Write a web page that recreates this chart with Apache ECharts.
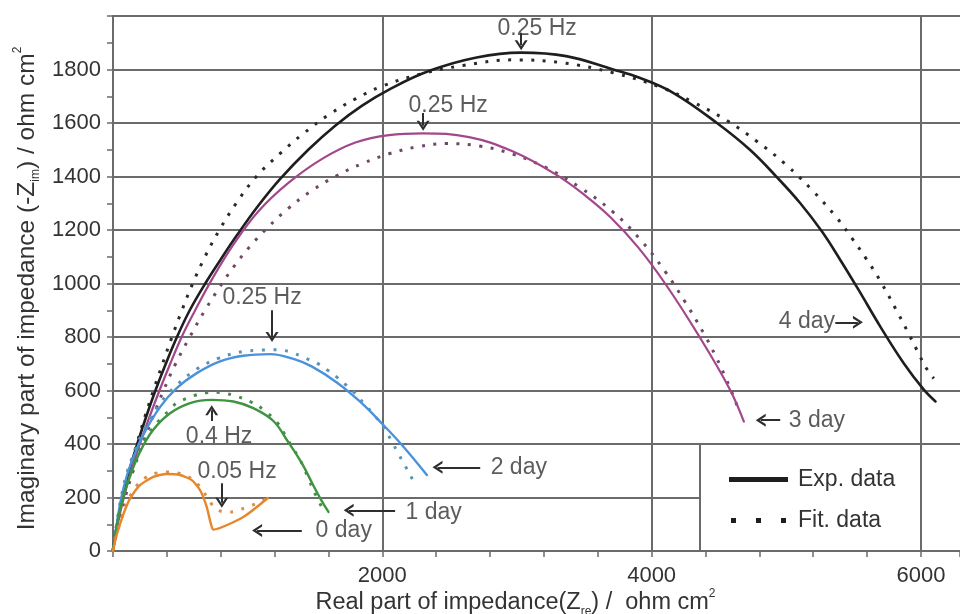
<!DOCTYPE html>
<html>
<head>
<meta charset="utf-8">
<script src="https://cdn.jsdelivr.net/npm/echarts@6/dist/echarts.min.js"></script>
<style>
  html, body { margin: 0; padding: 0; background: #ffffff; }
  #chart { width: 960px; height: 614px; }
</style>
</head>
<body>
<div id="chart"></div>
<script>
// Nyquist plots: [Z_re, -Z_im] in ohm cm^2, measured (Exp.) and fitted (Fit.) per immersion day
const day4Exp = [[0,0],[30,100],[70,200],[120,300],[180,400],[245,500],[315,600],[392,700],[475,800],[570,900],[685,1000],[800,1090],[920,1180],[1070,1285],[1240,1390],[1450,1500],[1650,1590],[1850,1665],[2050,1725],[2350,1795],[2700,1845],[3029,1863],[3365,1850],[3715,1800],[3915,1768],[4163,1712],[4485,1600],[4732,1499],[4931,1397],[5104,1300],[5265,1194],[5401,1088],[5537,976],[5698,839],[5872,702],[6021,603],[6108,559]];
const day4Fit = [[0,0],[28,100],[68,200],[118,300],[176,400],[236,500],[300,600],[368,700],[438,800],[512,900],[592,1000],[683,1100],[790,1200],[915,1300],[1065,1400],[1250,1490],[1400,1555],[1600,1630],[1800,1690],[2000,1738],[2300,1785],[2600,1815],[2967,1836],[3339,1825],[3712,1788],[4060,1735],[4308,1678],[4556,1610],[4780,1532],[4996,1445],[5194,1348],[5376,1245],[5487,1170],[5594,1092],[5693,1014],[5822,896],[5909,812],[5991,730],[6034,688],[6095,645]];

const day3Exp = [[0,0],[35,100],[80,200],[135,300],[200,400],[270,500],[345,600],[425,700],[510,800],[600,890],[740,1020],[900,1150],[1080,1270],[1300,1375],[1550,1465],[1800,1527],[2050,1555],[2300,1561],[2644,1547],[2967,1494],[3290,1407],[3514,1326],[3700,1245],[3900,1135],[4100,1000],[4350,805],[4580,605],[4685,484]];
const day3Fit = [[0,0],[40,100],[90,200],[150,300],[220,400],[295,500],[375,600],[465,700],[570,800],[683,900],[790,985],[900,1065],[1020,1140],[1150,1210],[1300,1280],[1470,1345],[1650,1400],[1850,1448],[2050,1485],[2250,1510],[2470,1523],[2719,1514],[2967,1484],[3216,1433],[3464,1360],[3712,1268],[3923,1160],[4100,1045],[4250,930],[4390,811],[4477,727],[4551,646],[4618,565],[4655,515]];

const day2Exp = [[0,0],[28,100],[62,200],[105,285],[151,350],[225,435],[349,538],[473,609],[622,665],[795,709],[968,730],[1167,736],[1340,718],[1475,690],[1662,630],[1835,558],[2008,471],[2157,390],[2331,284]];
const day2Fit = [[0,0],[28,100],[62,205],[105,295],[151,360],[225,448],[349,552],[473,620],[622,680],[780,720],[894,738],[968,746],[1067,750],[1180,752],[1265,750],[1340,740],[1427,721],[1513,703],[1588,678],[1662,650],[1736,618],[1798,590],[1860,553],[1940,508],[2010,462],[2070,410],[2120,363],[2165,322],[2207,284],[2249,243]];

const day1Exp = [[0,0],[30,100],[70,190],[120,270],[200,370],[299,453],[424,515],[572,553],[733,565],[894,559],[1042,534],[1191,486],[1295,412],[1400,330],[1488,245],[1540,196],[1600,146]];
const day1Fit = [[0,0],[30,100],[70,195],[120,278],[200,380],[299,462],[424,530],[473,553],[548,571],[622,584],[696,592],[770,593],[845,588],[919,578],[1018,559],[1117,528],[1216,482],[1278,434],[1328,390],[1377,352],[1414,315],[1451,271],[1500,215],[1575,140]];

const day0Exp = [[0,0],[22,50],[52,100],[90,155],[126,195],[200,246],[299,277],[399,288],[498,284],[585,265],[646,228],[696,165],[725,105],[745,80],[968,127],[1150,198]];
const day0Fit = [[0,0],[22,55],[52,105],[90,162],[126,205],[200,258],[287,286],[386,295],[450,294],[520,286],[590,268],[650,238],[700,200],[750,165],[807,148],[882,146],[968,159],[1067,178],[1142,195]];

// frequency and day annotations: [x, y, text]
const freqNotes = [[3150,1952,'0.25 Hz'],[2489,1664,'0.25 Hz'],[1107,946,'0.25 Hz'],[788,429,'0.4 Hz'],[921,298,'0.05 Hz']];
const dayNotes = [[1501,77,'0 day'],[2169,145,'1 day'],[2801,313,'2 day'],[5015,489,'3 day'],[4941,856,'4 day']];
// pointer arrows: [tail, head]
const pointers = [
  [[3031,1937],[3031,1891]],
  [[2303,1637],[2303,1590]],
  [[1181,900],[1181,800]],
  [[733,486],[733,526]],
  [[808,253],[808,180]],
  [[1402,77],[1070,77]],
  [[2095,152],[1750,152]],
  [[2727,313],[2410,313]],
  [[4955,489],[4810,489]],
  [[5364,855],[5532,855]]
];

const xLabelValues = [2000, 4000, 6000];
const legendNames = ['Exp. data', 'Fit. data'];
// legend panel: left edge on Z_re, top on -Z_im
const legendPanel = [4360, 400];

const FONT = '"Liberation Sans", Arial, Helvetica, sans-serif';
const INK = '#333333';
const RULE = '#6b6b6b';
const CLEAR = 'rgba(0,0,0,0)';
const X_MAX = 6290;
const X_STEP = 400;
const Y_MAX = 2000;
const Y_STEP = 200;

// gridline colours per tick: vertical rules only at the labelled values,
// and the 200 rule is drawn separately so it stops at the legend panel
const xRuleColors = [];
for (let v = 0; v <= X_MAX + X_STEP; v += X_STEP) xRuleColors.push(xLabelValues.indexOf(v) >= 0 ? RULE : CLEAR);
const yRuleColors = [];
for (let v = 0; v <= Y_MAX; v += Y_STEP) yRuleColors.push(v === Y_STEP ? CLEAR : RULE);

const chart = echarts.init(document.getElementById('chart'), null, { renderer: 'canvas' });

function expSeries(name, pts, color, width, smooth) {
  return {
    type: 'line', name: name, data: pts, symbol: 'none', showSymbol: false,
    smooth: smooth, z: 3, silent: true,
    lineStyle: { color: color, width: width, cap: 'round', join: 'round' },
    itemStyle: { color: color }
  };
}
function fitSeries(name, pts, color, smooth) {
  return {
    type: 'line', name: name, data: pts, symbol: 'none', showSymbol: false,
    smooth: smooth, z: 3, silent: true,
    lineStyle: { color: color, width: 3, type: [3, 8.5], cap: 'butt' },
    itemStyle: { color: color }
  };
}

const chevron = 'path://M0,9 L5,0 L10,9 L8,9 L5,3.6 L2,9 Z';
function richFor(size) {
  return {
    s: { fontSize: size, fontFamily: FONT, color: INK, verticalAlign: 'bottom', lineHeight: 30 },
    p: { fontSize: size, fontFamily: FONT, color: INK, verticalAlign: 'top', lineHeight: 30 }
  };
}

const option = {
  animation: false,
  backgroundColor: '#ffffff',
  textStyle: { fontFamily: FONT },
  grid: { left: 113, top: 16, width: 847, height: 535, containLabel: false, outerBoundsMode: 'none' },
  legend: {
    orient: 'vertical', left: 724, top: 463, itemWidth: 59, itemHeight: 5, itemGap: 18,
    selectedMode: false,
    textStyle: { fontSize: 23, color: INK, fontFamily: FONT, padding: [0, 0, 0, 5] },
    data: [
      { name: legendNames[0], icon: 'rect' },
      { name: legendNames[1], icon: 'path://M0,0h5v5h-5z M25,0h5v5h-5z M50,0h5v5h-5z' }
    ]
  },
  xAxis: {
    type: 'value', min: 0, max: X_MAX, interval: X_STEP,
    name: 'Real part of impedance(Z{s|re}) /  ohm cm{p|2}',
    nameLocation: 'middle', nameGap: 37, nameMoveOverlap: false,
    nameTextStyle: { fontSize: 23.5, color: INK, fontFamily: FONT, padding: [0, 42, 0, 0], rich: richFor(12) },
    axisLine: { show: true, lineStyle: { color: RULE, width: 2 } },
    axisTick: { show: true, inside: false, length: 6, lineStyle: { color: RULE, width: 1.5 } },
    axisLabel: {
      fontSize: 22, color: INK, fontFamily: FONT, margin: 14,
      formatter: function (v) { return xLabelValues.indexOf(v) >= 0 ? String(v) : ''; }
    },
    splitLine: { show: true, lineStyle: { color: xRuleColors, width: 2 } }
  },
  yAxis: {
    type: 'value', min: 0, max: Y_MAX, interval: Y_STEP,
    name: 'Imaginary part of impedance (-Z{s|im}) / ohm cm{p|2}',
    nameLocation: 'middle', nameRotate: 90, nameGap: 71, nameMoveOverlap: false,
    nameTextStyle: { fontSize: 24.5, color: INK, fontFamily: FONT, padding: [0, 10, 0, 0], rich: richFor(12) },
    axisLine: { show: true, lineStyle: { color: RULE, width: 2 } },
    axisTick: { show: true, inside: false, length: 6, lineStyle: { color: RULE, width: 1.5 } },
    minorTick: { show: true, splitNumber: 2, length: 6, lineStyle: { color: RULE, width: 1.5 } },
    axisLabel: {
      fontSize: 22, color: INK, fontFamily: FONT, margin: 12,
      formatter: function (v) { return v === Y_MAX ? '' : String(v); }
    },
    splitLine: { show: true, lineStyle: { color: yRuleColors, width: 2 } }
  },
  series: [
    // the 200 rule up to the legend panel, and the panel's left edge
    {
      type: 'line', name: 'frame', data: [], silent: true, z: 1,
      markLine: {
        silent: true, z: 1, symbol: ['none', 'none'], label: { show: false },
        lineStyle: { color: RULE, width: 2, type: 'solid' },
        emphasis: { disabled: true },
        data: [
          [{ coord: [0, Y_STEP] }, { coord: [legendPanel[0], Y_STEP] }],
          [{ coord: [legendPanel[0], 0] }, { coord: [legendPanel[0], legendPanel[1]] }]
        ]
      }
    },
    { type: 'line', name: legendNames[0], data: [], symbol: 'none', itemStyle: { color: '#1e1e1e' }, lineStyle: { color: '#1e1e1e', width: 5 } },
    { type: 'line', name: legendNames[1], data: [], symbol: 'none', itemStyle: { color: '#1e1e1e' }, lineStyle: { color: '#1e1e1e', width: 3, type: 'dotted' } },

    fitSeries('4 day fit', day4Fit, '#2a2a2a', 0.4),
    expSeries('4 day', day4Exp, '#1e1e1e', 2.6, 0.4),
    fitSeries('3 day fit', day3Fit, '#6f4869', 0.4),
    expSeries('3 day', day3Exp, '#a3478c', 2.2, 0.4),
    fitSeries('2 day fit', day2Fit, '#5d93b2', 0.4),
    expSeries('2 day', day2Exp, '#4a93dc', 2.4, 0.4),
    fitSeries('1 day fit', day1Fit, '#4b8b4d', 0.4),
    expSeries('1 day', day1Exp, '#3e9440', 2.4, 0.4),
    fitSeries('0 day fit', day0Fit, '#d3914a', 0.3),
    expSeries('0 day', day0Exp, '#e8862a', 2.4, 0.2),

    // annotation arrows
    {
      type: 'line', name: 'pointers', data: [], silent: true,
      markLine: {
        silent: true, z: 5, symbol: ['none', chevron], symbolSize: [13, 10],
        label: { show: false }, emphasis: { disabled: true },
        lineStyle: { color: '#2e2e2e', width: 2, type: 'solid' },
        data: pointers.map(function (p) { return [{ coord: p[0] }, { coord: p[1] }]; })
      }
    },
    // annotation texts
    {
      type: 'scatter', name: 'freq notes', z: 6, silent: true, symbolSize: 1,
      itemStyle: { color: CLEAR },
      label: { show: true, position: 'inside', fontSize: 23, color: INK, fontFamily: FONT },
      data: freqNotes.map(function (n) { return { value: [n[0], n[1]], label: { formatter: n[2] } }; })
    },
    {
      type: 'scatter', name: 'day notes', z: 6, silent: true, symbolSize: 1,
      itemStyle: { color: CLEAR },
      label: { show: true, position: 'right', distance: 0, fontSize: 23, color: INK, fontFamily: FONT },
      data: dayNotes.map(function (n) { return { value: [n[0], n[1]], label: { formatter: n[2] } }; })
    }
  ]
};

chart.setOption(option);
</script>
</body>
</html>
